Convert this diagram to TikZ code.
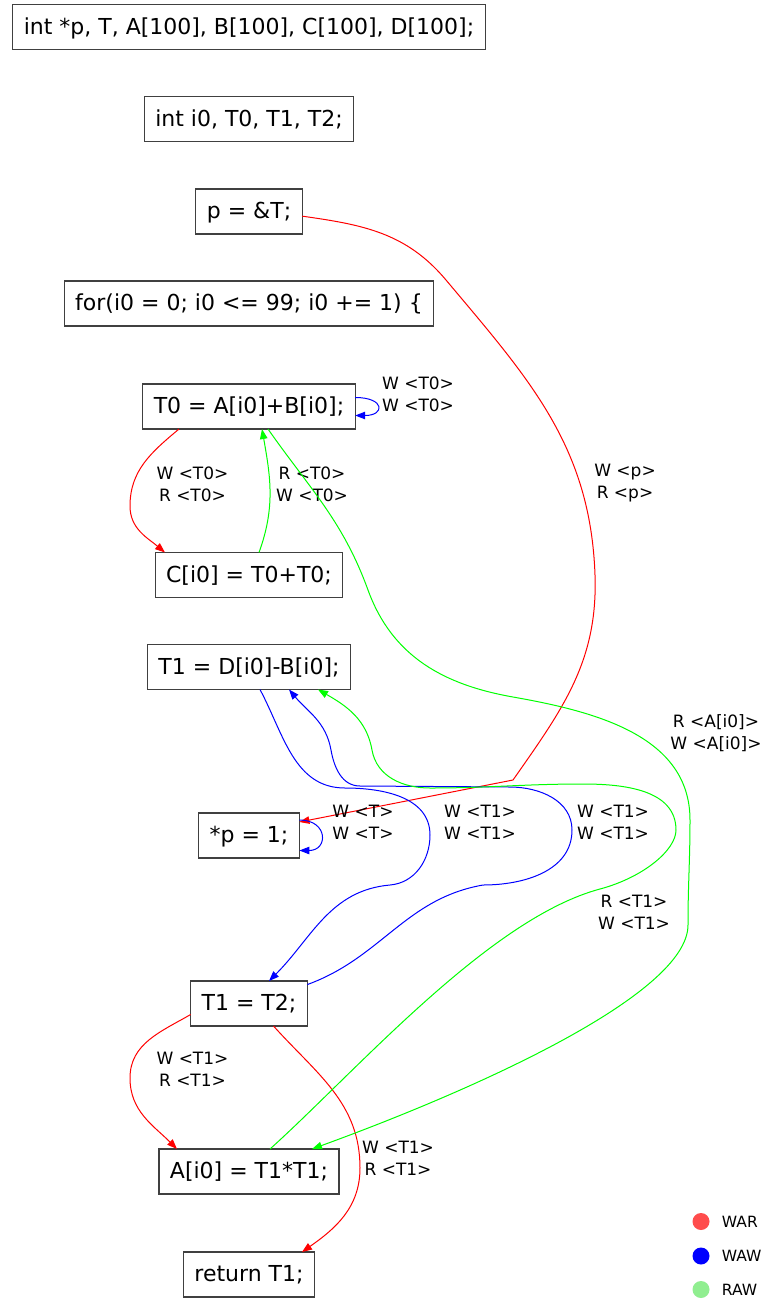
\documentclass[tikz,border=0pt]{standalone}
\usepackage{fontspec}
\setmainfont{DejaVu Sans}
\usetikzlibrary{arrows.meta, positioning}
\definecolor{boxEdge}{RGB}{64, 64, 64}
\definecolor{warRed}{RGB}{255, 0, 0}
\definecolor{wawBlue}{RGB}{0, 0, 255}
\definecolor{rawGreen}{RGB}{0, 255, 0}
\definecolor{warKey}{RGB}{255, 76, 76}
\definecolor{rawKey}{RGB}{144, 238, 144}

\begin{document}
\begin{tikzpicture}[
    x=1pt, y=-1pt,
    stmtNode/.style={rectangle, draw=boxEdge, text=black, line width=1.1pt, outer sep=0pt, minimum height=45pt, inner xsep=11pt, text height=19pt, text depth=5pt, font=\fontsize{22pt}{26pt}\selectfont},
    depLabel/.style={align=center, inner sep=0pt, font=\fontsize{17pt}{22pt}\selectfont},
    depEdge/.style={line width=1pt, -{Triangle[length=10pt, width=7.5pt]}},
    warEdge/.style={depEdge, draw=warRed},
    wawEdge/.style={depEdge, draw=wawBlue},
    rawEdge/.style={depEdge, draw=rawGreen},
    keyDot/.style={circle, inner sep=0pt, minimum size=17pt},
    keyText/.style={inner sep=0pt, font=\fontsize{15.5pt}{18pt}\selectfont}
  ]
    \useasboundingbox[fill=white] (0,0) rectangle (766,1299);

    % Statements, one per rank
    \node[stmtNode] (decl) at (249,27) {int *p, T, A[100], B[100], C[100], D[100];};
    \node[stmtNode, below=47pt of decl] (vars) {int i0, T0, T1, T2;};
    \node[stmtNode, below=47.5pt of vars] (pinit) {p = \&T;};
    \node[stmtNode, below=47pt of pinit] (loop) {for(i0 = 0; i0 <= 99; i0 += 1) \{};
    \node[stmtNode, below=58pt of loop] (t0) {T0 = A[i0]+B[i0];};
    \node[stmtNode, below=123.5pt of t0] (cst) {C[i0] = T0+T0;};
    \node[stmtNode, below=47pt of cst] (t1) {T1 = D[i0]-B[i0];};
    \node[stmtNode, below=123.5pt of t1] (pst) {*p = 1;};
    \node[stmtNode, below=123pt of pst] (t1cp) {T1 = T2;};
    \node[stmtNode, below=123pt of t1cp] (ast) {A[i0] = T1*T1;};
    \node[stmtNode, below=58pt of ast] (ret) {return T1;};

    % WAR dependences
    \draw[warEdge] (pinit.-5) to[out=-8, in=130] (446,280) to[out=-50, in=92] (595,575) to[out=-88, in=55] (513,780) -- (pst.15);
    \node[depLabel] (lblP) at (625,483) {W <p>\\R <p>};

    \draw[warEdge] ([xshift=-70pt]t0.south) to[out=-140, in=90] (130,506) to[out=-90, in=140] ([xshift=-84pt]cst.north);
    \node[depLabel] (lblT0war) at (192.5,484.5) {W <T0>\\R <T0>};

    \draw[warEdge] ([yshift=-11pt]t1cp.west) to[out=-150, in=90] (130,1078) to[out=-90, in=135] ([xshift=-72pt]ast.north);
    \node[depLabel] (lblT1war) at (192.5,1069.5) {W <T1>\\R <T1>};

    \draw[warEdge] ([xshift=24.5pt]t1cp.south) to[out=-48, in=90] (360,1168) to[out=-90, in=35] ([xshift=53pt]ret.north);
    \node[depLabel] (lblRet) at (398,1158) {W <T1>\\R <T1>};

    % WAW dependences
    \draw[wawEdge] ([yshift=9pt]t0.east) to[out=0, in=0, distance=30pt] ([yshift=-9pt]t0.east);
    \node[depLabel] (lblT0waw) at (418,394.5) {W <T0>\\W <T0>};

    \draw[wawEdge] ([yshift=15.5pt]pst.east) to[out=0, in=0, distance=29pt] ([yshift=-15pt]pst.east);
    \node[depLabel] (lblPst) at (363,822.5) {W <T>\\W <T>};

    \draw[wawEdge] ([xshift=11pt]t1.south) to[out=-62, in=180] (345,788) to[out=0, in=90] (430,835) to[out=-90, in=5] (390,885) to[out=-175, in=45] ([xshift=20pt]t1cp.north);
    \node[depLabel] (lblT1down) at (480,822.5) {W <T1>\\W <T1>};

    \draw[wawEdge] (t1cp.18) to[out=20, in=-170] (483,885) to[out=0, in=-90] (572,830) to[out=90, in=0] (510,787) -- (360,786) to[out=180, in=-80] (331,750) to[out=100, in=-50] ([xshift=40pt]t1.south);
    \node[depLabel] (lblT1up) at (613,822) {W <T1>\\W <T1>};

    % RAW dependences
    \draw[rawEdge] ([xshift=10pt]cst.north) to[out=70, in=-80] ([xshift=13pt]t0.south);
    \node[depLabel] (lblT0raw) at (312,484.5) {R <T0>\\W <T0>};

    \draw[rawEdge] ([xshift=19pt]t0.south) to[out=-55, in=110] (368,590) to[out=-70, in=170] (513,697) to[out=-10, in=90] (690,820) to[out=-90, in=90] (688,925) to[out=-90, in=20, out distance=70pt, in distance=170pt] ([xshift=63pt]ast.north);
    \node[depLabel] (lblArr) at (716,733) {R <A[i0]>\\W <A[i0]>};

    \draw[rawEdge] ([xshift=21pt]ast.north) to[out=42, in=-165, looseness=0.7] (600,889) to[out=15, in=-90, out distance=45pt, in distance=20pt] (676,830) to[out=90, in=0] (583,784) to[out=180, in=0] (430,788) to[out=180, in=-80] (372,750) to[out=100, in=-30] ([xshift=69pt]t1.south);
    \node[depLabel] (lblT1raw) at (634,912.5) {R <T1>\\W <T1>};

    % Legend
    \node[keyDot, fill=warKey] (dotWar) at (701,1221.5) {};
    \node[keyDot, fill=wawBlue] (dotWaw) at (701,1256) {};
    \node[keyDot, fill=rawKey] (dotRaw) at (701,1289.5) {};
    \node[keyText, right=12pt of dotWar] (keyWar) {WAR};
    \node[keyText, right=12pt of dotWaw] (keyWaw) {WAW};
    \node[keyText, right=12pt of dotRaw] (keyRaw) {RAW};
  \end{tikzpicture}
\end{document}
